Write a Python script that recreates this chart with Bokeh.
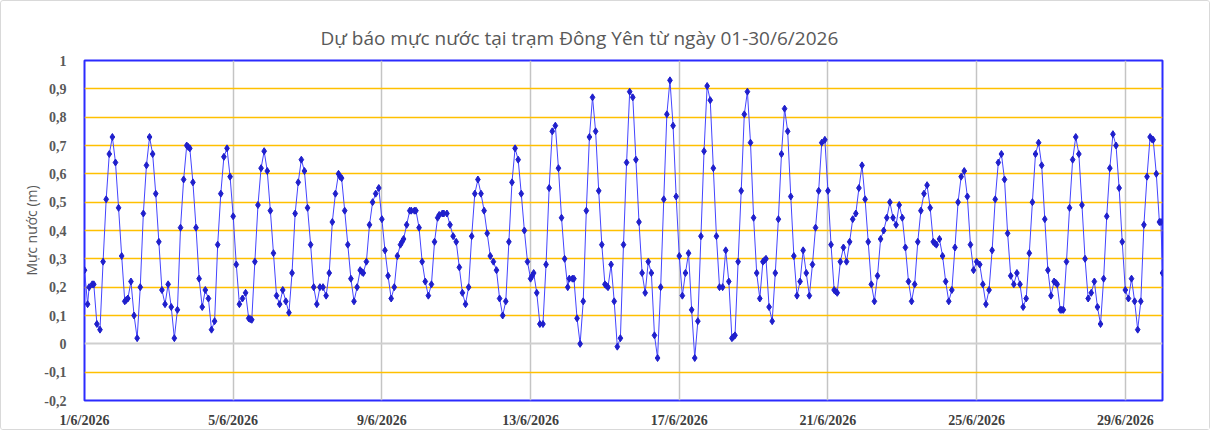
import pandas as pd
from bokeh.plotting import figure
from bokeh.models import (ColumnDataSource, FixedTicker, CustomJSTickFormatter,
                          Grid, Range1d)
from bokeh.embed import file_html
from bokeh.resources import INLINE

# ---------------- data ----------------
start = "2026-06-01 00:00"
end_hours = 696

# forecast time (hours after 01/06/2026 00:00), one line per day
hours = [
    0, 2, 3, 5, 6, 8, 10, 12, 14, 16, 18, 20, 22,
    24, 26, 27, 28, 30, 32, 34, 36, 38, 40, 42, 44, 46,
    48, 50, 52, 54, 56, 58, 60, 62, 64, 66, 67, 68, 70,
    72, 74, 76, 78, 80, 82, 84, 86, 88, 90, 92, 94,
    96, 98, 100, 102, 104, 106, 107, 108, 110, 112, 114, 116, 118,
    120, 122, 124, 126, 128, 130, 132, 134, 136, 138, 140, 142,
    144, 146, 148, 150, 152, 154, 156, 158, 160, 162, 164, 165, 166,
    168, 170, 172, 174, 176, 178, 179, 180, 182, 184, 186, 188, 190,
    192, 194, 196, 198, 200, 202, 204, 205, 206, 208, 210, 211, 213, 214,
    216, 218, 220, 222, 224, 226, 228, 229, 231, 232, 234, 236, 238,
    240, 242, 244, 246, 248, 250, 252, 254, 256, 258, 260, 262,
    264, 266, 268, 270, 272, 274, 276, 278, 280, 282, 284, 286,
    288, 289, 290, 292, 294, 296, 298, 300, 302, 304, 306, 308, 310,
    312, 313, 315, 316, 318, 320, 322, 324, 326, 328, 330, 332, 334,
    336, 337, 338, 340, 342, 344, 346, 348, 350, 352, 354, 356, 358,
    360, 362, 364, 366, 368, 370, 372, 374, 376, 378, 380, 382,
    384, 386, 388, 390, 392, 394, 396, 398, 400, 402, 404, 406,
    408, 410, 412, 414, 416, 418, 419, 420, 422, 424, 426, 428, 430,
    432, 434, 436, 438, 439, 440, 442, 444, 446, 448, 450, 452, 454,
    456, 458, 460, 462, 464, 466, 468, 470, 472, 474, 476, 478,
    480, 482, 484, 485, 486, 488, 490, 492, 494, 496, 498, 500, 502,
    504, 506, 508, 510, 512, 514, 516, 518, 520, 522, 524, 526,
    528, 530, 532, 534, 536, 538, 540, 542, 544, 546, 548, 549, 550,
    552, 554, 556, 558, 560, 562, 564, 566, 568, 570, 572, 574,
    576, 578, 580, 582, 584, 586, 588, 590, 592, 594, 596, 598,
    600, 602, 604, 606, 608, 610, 612, 614, 616, 618, 620, 622,
    624, 626, 627, 628, 630, 631, 632, 634, 636, 638, 640, 642, 644, 646,
    648, 650, 652, 654, 656, 658, 660, 662, 664, 666, 668, 670,
    672, 674, 676, 678, 680, 682, 684, 686, 688, 689, 690, 692, 694, 695, 696,
]

# forecast water level (m)
levels = [
    0.26, 0.14, 0.20, 0.21, 0.21, 0.07, 0.05, 0.29, 0.51, 0.67, 0.73, 0.64, 0.48,
    0.31, 0.15, 0.155, 0.16, 0.22, 0.10, 0.02, 0.20, 0.46, 0.63, 0.73, 0.67, 0.53,
    0.36, 0.19, 0.14, 0.21, 0.13, 0.02, 0.12, 0.41, 0.58, 0.70, 0.695, 0.69, 0.57,
    0.41, 0.23, 0.13, 0.19, 0.16, 0.05, 0.08, 0.35, 0.53, 0.66, 0.69, 0.59,
    0.45, 0.28, 0.14, 0.16, 0.18, 0.09, 0.087, 0.085, 0.29, 0.49, 0.62, 0.68, 0.61,
    0.47, 0.32, 0.17, 0.14, 0.19, 0.15, 0.11, 0.25, 0.46, 0.57, 0.65, 0.61,
    0.48, 0.35, 0.20, 0.14, 0.20, 0.20, 0.17, 0.25, 0.43, 0.53, 0.60, 0.59, 0.585,
    0.47, 0.35, 0.23, 0.15, 0.20, 0.26, 0.254, 0.25, 0.29, 0.42, 0.50, 0.53, 0.55,
    0.44, 0.33, 0.24, 0.16, 0.20, 0.31, 0.35, 0.36, 0.37, 0.42, 0.47, 0.47, 0.47, 0.47,
    0.41, 0.29, 0.22, 0.17, 0.21, 0.36, 0.445, 0.455, 0.46, 0.46, 0.46, 0.42, 0.38,
    0.36, 0.27, 0.18, 0.14, 0.20, 0.38, 0.53, 0.58, 0.53, 0.47, 0.39, 0.31,
    0.29, 0.26, 0.16, 0.10, 0.15, 0.36, 0.57, 0.69, 0.65, 0.53, 0.40, 0.29,
    0.23, 0.24, 0.25, 0.18, 0.07, 0.07, 0.28, 0.55, 0.75, 0.77, 0.62, 0.445, 0.30,
    0.20, 0.23, 0.23, 0.23, 0.09, 0.00, 0.15, 0.47, 0.73, 0.87, 0.75, 0.54, 0.35,
    0.21, 0.205, 0.20, 0.28, 0.15, -0.01, 0.02, 0.35, 0.64, 0.89, 0.87, 0.65, 0.43,
    0.25, 0.18, 0.29, 0.25, 0.03, -0.05, 0.20, 0.51, 0.81, 0.93, 0.77, 0.52,
    0.31, 0.17, 0.25, 0.32, 0.12, -0.05, 0.08, 0.38, 0.68, 0.91, 0.86, 0.62,
    0.38, 0.20, 0.20, 0.33, 0.22, 0.02, 0.025, 0.03, 0.29, 0.54, 0.81, 0.89, 0.71,
    0.445, 0.25, 0.16, 0.29, 0.295, 0.30, 0.13, 0.08, 0.25, 0.44, 0.67, 0.83, 0.75,
    0.52, 0.31, 0.17, 0.22, 0.33, 0.25, 0.17, 0.28, 0.41, 0.54, 0.71, 0.72,
    0.54, 0.35, 0.19, 0.185, 0.18, 0.29, 0.34, 0.29, 0.36, 0.44, 0.46, 0.55, 0.63,
    0.51, 0.36, 0.21, 0.15, 0.24, 0.37, 0.40, 0.445, 0.50, 0.445, 0.42, 0.49,
    0.445, 0.34, 0.22, 0.15, 0.21, 0.36, 0.47, 0.53, 0.56, 0.48, 0.36, 0.355, 0.35,
    0.37, 0.31, 0.22, 0.15, 0.19, 0.34, 0.50, 0.59, 0.61, 0.52, 0.35, 0.26,
    0.29, 0.28, 0.21, 0.14, 0.19, 0.33, 0.51, 0.64, 0.67, 0.58, 0.39, 0.24,
    0.21, 0.25, 0.21, 0.13, 0.16, 0.32, 0.50, 0.67, 0.71, 0.63, 0.44, 0.26,
    0.17, 0.22, 0.216, 0.21, 0.12, 0.12, 0.12, 0.29, 0.48, 0.65, 0.73, 0.67, 0.49, 0.30,
    0.16, 0.18, 0.22, 0.13, 0.07, 0.23, 0.45, 0.62, 0.74, 0.70, 0.55, 0.36,
    0.19, 0.16, 0.23, 0.15, 0.05, 0.15, 0.42, 0.59, 0.73, 0.723, 0.72, 0.60, 0.43, 0.43, 0.25,
]

tick_dates = ["2026-06-01", "2026-06-05", "2026-06-09", "2026-06-13",
              "2026-06-17", "2026-06-21", "2026-06-25", "2026-06-29"]
y_ticks = [-0.2, -0.1, 0.0, 0.1, 0.2, 0.3, 0.4, 0.5, 0.6, 0.7, 0.8, 0.9, 1.0]
orange_levels = [-0.1, 0.1, 0.2, 0.3, 0.4, 0.5, 0.6, 0.7, 0.8, 0.9]
zero_level = [0.0]

title_text = "Dự báo mực nước tại trạm Đông Yên từ ngày 01-30/6/2026"
y_label = "Mực nước (m)"

assert len(hours) == len(levels)

# ---------------- build ----------------
t0 = pd.Timestamp(start)
times = t0 + pd.to_timedelta(hours, unit="h")
src = ColumnDataSource(dict(t=times, v=levels))

x_ticks = [pd.Timestamp(d).value / 1e6 for d in tick_dates]

p = figure(width=1210, height=430, x_axis_type="datetime",
           output_backend="svg", toolbar_location=None,
           x_range=Range1d(t0, t0 + pd.Timedelta(hours=end_hours)),
           y_range=Range1d(-0.2, 1.0),
           min_border_left=83, min_border_right=49,
           min_border_top=59, min_border_bottom=31)

p.background_fill_color = "white"
p.border_fill_color = "white"
p.outline_line_color = "#2b2bff"
p.outline_line_width = 2
p.outline_line_alpha = 1.0

# title
p.title.text = title_text
p.title.text_font = "Open Sans"
p.title.text_font_size = "19px"
p.title.text_font_style = "normal"
p.title.text_color = "#595959"
p.title.align = "left"
p.title.offset = 236
p.title.standoff = 19

# grids
p.xgrid.ticker = FixedTicker(ticks=x_ticks)
p.xgrid.grid_line_color = "#c4c4c4"
p.xgrid.grid_line_width = 1.5
p.ygrid.ticker = FixedTicker(ticks=orange_levels)
p.ygrid.grid_line_color = "#ffc000"
p.ygrid.grid_line_width = 1.5
zero_grid = Grid(dimension=1, ticker=FixedTicker(ticks=zero_level),
                 grid_line_color="#cfcfcf", grid_line_width=2)
p.add_layout(zero_grid)

# x axis
p.xaxis.ticker = FixedTicker(ticks=x_ticks)
p.xaxis.formatter = CustomJSTickFormatter(code="""
    const d = new Date(tick);
    return d.getUTCDate() + "/" + (d.getUTCMonth() + 1) + "/" + d.getUTCFullYear();
""")
p.xaxis.major_label_text_font = "Liberation Serif"
p.xaxis.major_label_text_font_style = "bold"
p.xaxis.major_label_text_font_size = "14px"
p.xaxis.major_label_text_color = "#404040"
p.xaxis.major_label_standoff = 6
p.xaxis.axis_line_color = None
p.xaxis.major_tick_line_color = None
p.xaxis.minor_tick_line_color = None

# y axis
p.yaxis.ticker = FixedTicker(ticks=y_ticks)
p.yaxis.formatter = CustomJSTickFormatter(code="""
    if (Math.abs(tick) < 1e-9) return "0";
    const s = tick.toFixed(1);
    if (s.endsWith(".0")) return s.slice(0, -2);
    return s.replace(".", ",");
""")
p.yaxis.major_label_text_font = "Liberation Serif"
p.yaxis.major_label_text_font_style = "bold"
p.yaxis.major_label_text_font_size = "14px"
p.yaxis.major_label_text_color = "#595959"
p.yaxis.major_label_standoff = 12
p.yaxis.axis_line_color = None
p.yaxis.major_tick_line_color = None
p.yaxis.minor_tick_line_color = None
p.yaxis.axis_label = y_label
p.yaxis.axis_label_text_font = "Open Sans"
p.yaxis.axis_label_text_font_style = "normal"
p.yaxis.axis_label_text_font_size = "14px"
p.yaxis.axis_label_text_color = "#595959"
p.yaxis.axis_label_standoff = 0

# series
p.line("t", "v", source=src, line_color="#4444ff", line_width=1.0)
p.scatter("t", "v", source=src, marker="diamond", size=7,
          fill_color="#1f1fcc", line_color="#1f1fcc")

p.styles = {"border": "1px solid #d9d9d9", "border-radius": "3px"}

open("out.html", "w").write(file_html(p, INLINE))
